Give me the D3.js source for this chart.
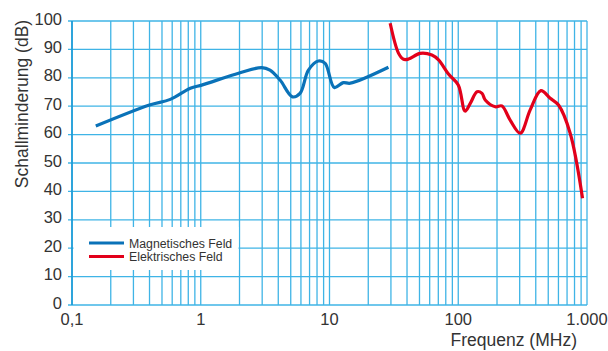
<!DOCTYPE html>
<html>
<head>
<meta charset="utf-8">
<script src="https://cdn.jsdelivr.net/npm/d3@7"></script>
<style>
  body { margin: 0; background: #fff; }
  text { font-family: "Liberation Sans", Arial, sans-serif; fill: #333; }
</style>
</head>
<body>
<svg width="608" height="351"></svg>
<script>
// Magnetisches Feld (MHz, dB)
var magFreq = [0.153, 0.4, 0.58, 0.83, 1.03, 2.02, 2.98, 3.45, 4.13, 5.15, 5.9, 6.86, 8.2, 9.25, 10.9, 12.8, 14.5, 28.7]
var magVal  = [63.0, 70.4, 72.4, 76.3, 77.5, 81.8, 83.6, 82.7, 79.2, 73.3, 74.5, 82.7, 85.9, 85.1, 76.6, 78.3, 78.1, 83.7]
// Elektrisches Feld
var elFreq = [29.6, 34.4, 37.6, 41.1, 50.6, 62.4, 70.3, 84, 100, 113, 124, 140, 153, 162, 194, 218, 253, 303, 362, 438, 518, 601, 740, 923]
var elVal  = [99.2, 88.6, 86.5, 86.6, 88.6, 88.0, 86.3, 81.3, 77.5, 68.3, 71.0, 75.1, 74.5, 72.2, 69.8, 70.1, 65.1, 60.5, 68.7, 75.5, 72.8, 70.4, 60.5, 37.6]

var xTicks = [0.1, 1, 10, 100, 1000]
var xTickLabels = ["0,1", "1", "10", "100", "1.000"]
var yTicks = d3.range(0, 101, 10)
var seriesNames = ["Magnetisches Feld", "Elektrisches Feld"]
var seriesColors = ["#0a72b8", "#e2001a"]

var svg = d3.select("svg"),
	pl = 72, pr = 587, pt = 21, pb = 305

var x = d3.scaleLog().domain([0.1, 1000]).range([pl, pr])
var y = d3.scaleLinear().domain([0, 100]).range([pb, pt])

var gridColor = "#3fb4e6"

// minor + major vertical grid
var vlines = []
for (var dec = 0.1; dec < 999; dec *= 10) {
	for (var k = 1; k <= 9; k++) vlines.push(dec * k)
}
vlines.push(1000)

svg.append("g").selectAll("line").data(vlines).enter().append("line")
	.attr("x1", d => x(d)).attr("x2", d => x(d))
	.attr("y1", pt).attr("y2", pb)
	.style("stroke", gridColor).style("stroke-width", 1.3)

svg.append("g").selectAll("line").data(yTicks).enter().append("line")
	.attr("x1", pl - 4).attr("x2", pr)
	.attr("y1", d => y(d)).attr("y2", d => y(d))
	.style("stroke", gridColor).style("stroke-width", 1.3)

// axis line
svg.append("line").attr("x1", pl).attr("x2", pl).attr("y1", pt).attr("y2", pb)
	.style("stroke", "#1a9ad6").style("stroke-width", 1.6)

// legend background
svg.append("rect").attr("x", pl + 1.5).attr("y", 227).attr("width", 165).attr("height", 43)
	.style("fill", "#fff")

// tick labels
svg.append("g").selectAll("text").data(yTicks).enter().append("text")
	.attr("x", 62).attr("y", d => y(d) + 3.5)
	.attr("text-anchor", "end").style("font-size", "16.5px")
	.text(d => d)

svg.append("g").selectAll("text").data(xTicks).enter().append("text")
	.attr("x", d => x(d)).attr("y", 325)
	.attr("text-anchor", "middle").style("font-size", "16.5px")
	.text((d, i) => xTickLabels[i])

svg.append("text").attr("x", 577).attr("y", 346).attr("text-anchor", "end")
	.style("font-size", "17.5px").text("Frequenz (MHz)")

svg.append("text").attr("transform", "translate(28,104) rotate(-90)")
	.attr("text-anchor", "middle").style("font-size", "17.5px").text("Schallminderung (dB)")

// curves
var line = d3.line().x(d => x(d[0])).y(d => y(d[1])).curve(d3.curveCatmullRom.alpha(0.5))

svg.append("path").datum(d3.zip(magFreq, magVal)).attr("d", line)
	.style("fill", "none").style("stroke", seriesColors[0]).style("stroke-width", 3.2)
svg.append("path").datum(d3.zip(elFreq, elVal)).attr("d", line)
	.style("fill", "none").style("stroke", seriesColors[1]).style("stroke-width", 3.2)

// legend
var lg = svg.append("g").selectAll("g").data(seriesNames).enter().append("g")
	.attr("transform", (d, i) => "translate(89," + (243 + i * 13.5) + ")")
lg.append("line").attr("x1", 0).attr("x2", 35)
	.style("stroke", (d, i) => seriesColors[i]).style("stroke-width", 3)
lg.append("text").attr("x", 40).attr("y", 4.5).style("font-size", "12.3px").text(d => d)
</script>
</body>
</html>
